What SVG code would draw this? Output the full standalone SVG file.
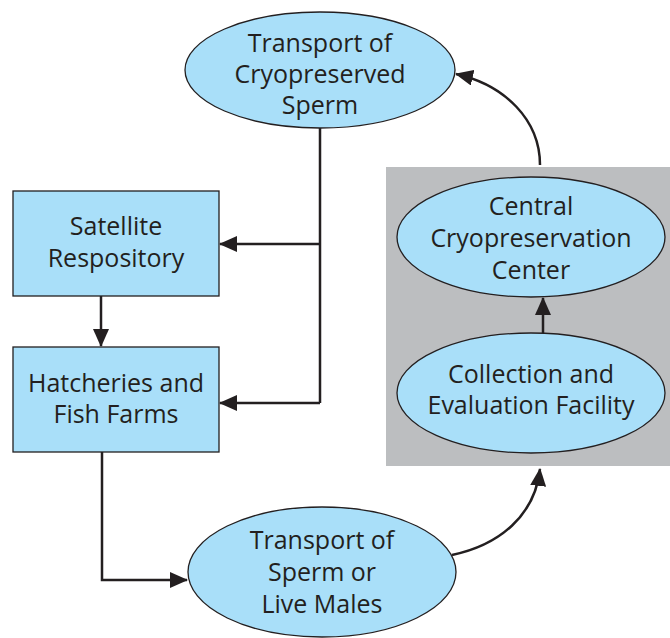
<svg xmlns="http://www.w3.org/2000/svg" width="670" height="638" viewBox="0 0 670 638">
  <defs>
    <marker id="head" viewBox="0 0 18 16" refX="17" refY="8" markerWidth="18" markerHeight="16" markerUnits="userSpaceOnUse" orient="auto">
      <path d="M0,0 L18,8 L0,16 Z" fill="#231f20"/>
    </marker>
    <style>
      .node { fill: #a9dff9; stroke: #231f20; stroke-width: 1.3; }
      .label { font-family: "Open Sans", "Liberation Sans", sans-serif; font-size: 25px; fill: #231f20; text-anchor: middle; }
      .edge { fill: none; stroke: #231f20; stroke-width: 2.5; }
    </style>
  </defs>
  <rect width="670" height="638" fill="#ffffff"/>

  <!-- shaded central facility area -->
  <rect id="facility-area" x="386" y="167" width="284" height="299" fill="#bcbec0"/>

  <g id="transport-cryo">
    <ellipse class="node" cx="320" cy="70" rx="135" ry="58"/>
    <text class="label" x="320" y="52">Transport of</text>
    <text class="label" x="320" y="83">Cryopreserved</text>
    <text class="label" x="320" y="114">Sperm</text>
  </g>

  <g id="satellite">
    <rect class="node" x="13" y="191" width="206" height="105"/>
    <text class="label" x="116" y="235">Satellite</text>
    <text class="label" x="116" y="267">Respository</text>
  </g>

  <g id="hatcheries">
    <rect class="node" x="13" y="347" width="206" height="105"/>
    <text class="label" x="116" y="392">Hatcheries and</text>
    <text class="label" x="116" y="423">Fish Farms</text>
  </g>

  <g id="central-center">
    <ellipse class="node" cx="531" cy="237" rx="134" ry="60"/>
    <text class="label" x="531" y="215">Central</text>
    <text class="label" x="531" y="247">Cryopreservation</text>
    <text class="label" x="531" y="279">Center</text>
  </g>

  <g id="collection">
    <ellipse class="node" cx="531" cy="393" rx="134" ry="60"/>
    <text class="label" x="531" y="383">Collection and</text>
    <text class="label" x="531" y="414">Evaluation Facility</text>
  </g>

  <g id="transport-live">
    <ellipse class="node" cx="322" cy="572" rx="134" ry="65"/>
    <text class="label" x="322" y="549">Transport of</text>
    <text class="label" x="322" y="581">Sperm or</text>
    <text class="label" x="322" y="613">Live Males</text>
  </g>

  <g id="connectors">
    <path class="edge" d="M320,128 V403"/>
    <path class="edge" d="M320,244 H220" marker-end="url(#head)"/>
    <path class="edge" d="M320,403 H220" marker-end="url(#head)"/>
    <path class="edge" d="M101,296 V346" marker-end="url(#head)"/>
    <path class="edge" d="M102,452 V580 H187" marker-end="url(#head)"/>
    <path class="edge" d="M452,555 C500,545 535,515 540,469" marker-end="url(#head)"/>
    <path class="edge" d="M543,333 V298" marker-end="url(#head)"/>
    <path class="edge" d="M540,165 C540,120 505,85 456,74" marker-end="url(#head)"/>
  </g>
</svg>
